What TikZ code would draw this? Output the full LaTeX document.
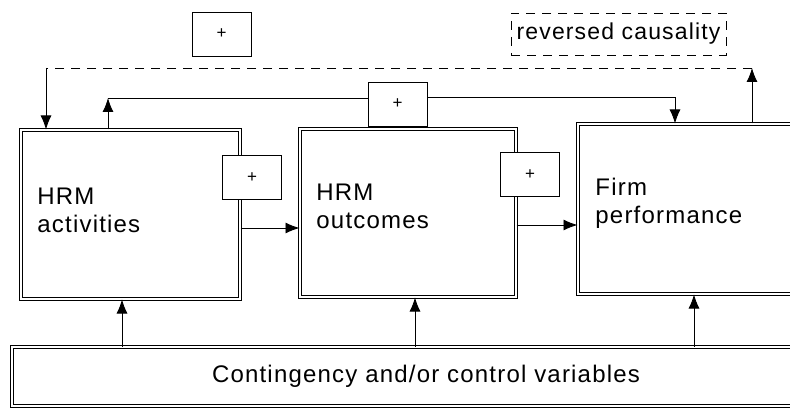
\documentclass[tikz,border=0pt]{standalone}
\usepackage{fontspec}
\setmainfont{Liberation Sans}[LetterSpace=5]
\usetikzlibrary{arrows.meta}

\begin{document}
\begin{tikzpicture}[x=1pt, y=-1pt, >={Latex[length=14pt,width=11pt]}, line width=0.9pt,
  frame/.style={draw, double=white, double distance=2.6pt, line width=1pt, fill=white, inner sep=0pt},
  plusbox/.style={draw, fill=white, minimum width=59pt, minimum height=44pt, inner sep=0pt, font=\fontsize{17}{17}\selectfont},
  lbl/.style={align=left, inner sep=0pt, font=\fontsize{24}{28}\selectfont},
  revline/.style={dash pattern=on 9pt off 7pt}]
\path[use as bounding box, clip] (0,0) rectangle (790,417);
% Boxes
\node[frame, minimum width=219pt, minimum height=169pt] (act) at (130.5,214.5) {};
\node[frame, minimum width=216pt, minimum height=168pt] (out) at (408,213) {};
\node[frame, minimum width=230pt, minimum height=170pt] (firm) at (693,209) {};
\node[frame, minimum width=828pt, minimum height=59pt, font=\fontsize{24}{28}\selectfont] (cont) at (426,376.5) {Contingency and/or control variables};

% Labels
\node[lbl, anchor=base west] (actlbl) at (37,232) {HRM\\activities};
\node[lbl, anchor=base west] (outlbl) at (316,228) {HRM\\outcomes};
\node[lbl, anchor=base west] (firmlbl) at (595,223) {Firm\\performance};

% Plus signs
\node[plusbox] (ptop) at (221.5,34) {+};
\node[plusbox] (pmid) at (397.5,104) {+};
\node[plusbox] (pact) at (252,177.5) {+};
\node[plusbox] (pout) at (530,174.5) {+};

% Reversed causality
\node[draw, revline, minimum width=215pt, minimum height=42pt, inner sep=0pt, font=\fontsize{23}{23}\selectfont] (rev) at (618.5,34) {reversed causality};
\coordinate (revL) at (46,68);
\coordinate (revR) at (752,68);
\draw[->] (revR |- firm.north) -- (revR);
\draw[revline] (revR) -- (revL);
\draw[->] (revL) -- (revL |- act.north);

% Direct path act -> firm
\coordinate (upA) at ([xshift=-22.5pt]act.north);
\draw[->] (upA) -- ([yshift=6pt]pmid.west -| upA);
\draw ([yshift=6pt]pmid.west -| upA) -- ([yshift=6pt]pmid.west);
\draw[->] ([yshift=7pt]pmid.east) -| ([xshift=-18pt]firm.north);

% Main chain
\draw[->] ([yshift=-13.5pt]act.east) -- ([yshift=-13.5pt]act.east -| out.west);
\draw[->] ([yshift=-12pt]out.east) -- ([yshift=-12pt]out.east -| firm.west);

% Contingency arrows
\draw[->] ([xshift=-8.5pt]act.south |- cont.north) -- ([xshift=-8.5pt]act.south);
\draw[->] ([xshift=7pt]out.south |- cont.north) -- ([xshift=7pt]out.south);
\draw[->] ([xshift=1pt]firm.south |- cont.north) -- ([xshift=1pt]firm.south);
\end{tikzpicture}
\end{document}
